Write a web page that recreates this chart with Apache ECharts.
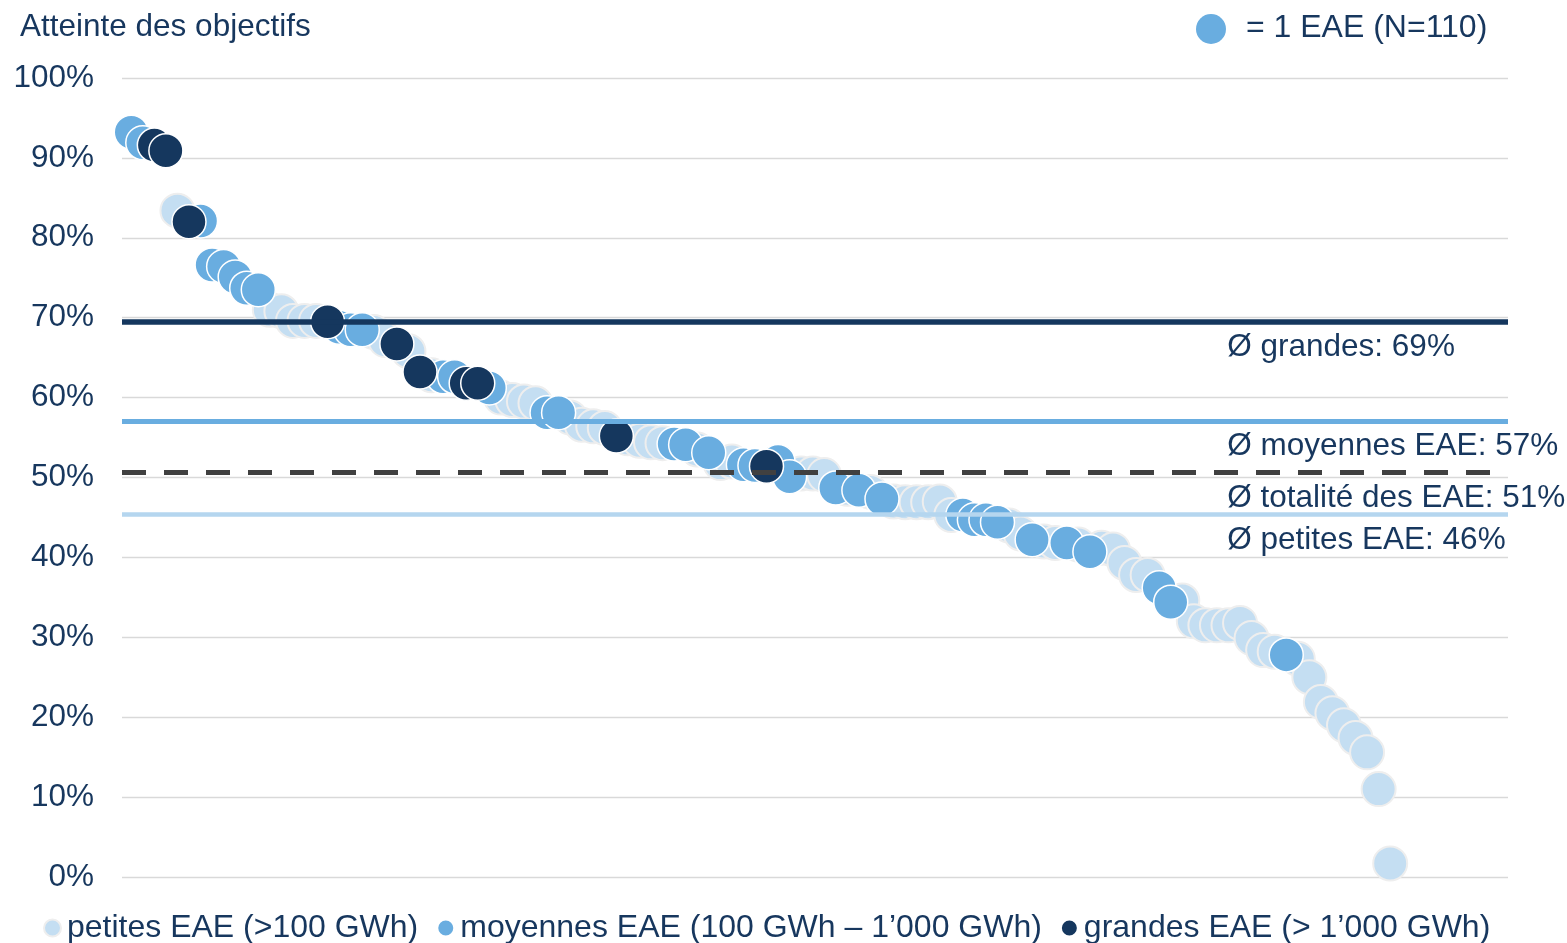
<!DOCTYPE html>
<html>
<head>
<meta charset="utf-8">
<script src="https://cdn.jsdelivr.net/npm/echarts@6/dist/echarts.min.js"></script>
<style>html,body{margin:0;padding:0;background:#fff;}#c{width:1567px;height:943px;}</style>
</head>
<body>
<div id="c"></div>
<script>
// Rank (1..110) of each EAE, sorted by goal attainment, split by size class
const petitesX = [5,13,14,15,16,17,22,23,25,27,33,34,35,36,39,40,41,42,44,45,46,47,50,52,53,59,60,61,63,65,67,68,69,70,71,72,77,78,80,81,83,85,86,87,88,89,92,93,94,95,96,97,98,99,100,102,103,104,105,106,107,108,109,110];
const petitesY = [83.4,71.0,70.8,69.6,69.6,69.6,68.2,67.2,65.8,62.8,60.0,59.7,59.5,59.3,57.5,56.6,56.4,56.2,54.9,54.6,54.4,54.3,53.5,51.8,52.0,50.5,50.5,50.3,48.6,48.2,47.0,46.9,46.9,46.9,47.0,45.3,44.0,43.0,42.0,41.8,41.6,41.2,41.0,39.3,37.8,37.8,34.6,32.0,31.5,31.5,31.5,31.8,29.9,28.4,28.2,27.3,25.0,21.9,20.5,19.0,17.4,15.6,11.0,1.7];
const moyennesX = [1,2,7,8,9,10,11,12,19,20,21,28,29,32,37,38,48,49,51,54,55,57,58,62,64,66,73,74,75,76,79,82,84,90,91,101];
const moyennesY = [93.2,91.9,82.1,76.6,76.4,75.1,73.7,73.5,68.8,68.5,68.5,62.6,62.6,61.2,58.1,58.1,54.2,54.1,53.1,51.6,51.5,52.0,50.1,48.7,48.4,47.3,45.3,44.7,44.7,44.4,42.2,41.8,40.7,36.2,34.4,27.8];
const grandesX = [3,4,6,18,24,26,30,31,43,56];
const grandesY = [91.6,90.9,82.0,69.5,66.7,63.2,61.8,61.8,55.2,51.4];

const seriesNames = ['petites EAE (>100 GWh)', 'moyennes EAE (100 GWh \u2013 1\u2019000 GWh)', 'grandes EAE (> 1\u2019000 GWh)'];
const avgValues = [69.5, 57.1, 50.6, 45.4];
const avgLabels = ['\u00d8 grandes: 69%', '\u00d8 moyennes EAE: 57%', '\u00d8 totalit\u00e9 des EAE: 51%', '\u00d8 petites EAE: 46%'];
const avgLabelX = 95.85;
const yTicks = [0, 10, 20, 30, 40, 50, 60, 70, 80, 90, 100];

const C_LIGHT = '#c4def2', C_MED = '#69ade0', C_DARK = '#15375e', TXT = '#17375e';
const FONT = 'Liberation Sans, Arial, sans-serif';
const FS = 31.5;

function pts(xs, ys) { return xs.map((x, i) => [x, ys[i]]); }

const chart = echarts.init(document.getElementById('c'));
chart.setOption({
  animation: false,
  textStyle: { fontFamily: FONT },
  title: { text: 'Atteinte des objectifs', left: 15, top: 6, textStyle: { fontFamily: FONT, fontSize: FS, fontWeight: 'normal', color: TXT } },
  grid: { left: 122, right: 59, top: 78, bottom: 66, containLabel: false },
  xAxis: { type: 'value', min: 0.2, max: 120.2, show: false },
  yAxis: {
    type: 'value', min: 0, max: 100, interval: 10,
    axisLine: { show: false }, axisTick: { show: false },
    axisLabel: { formatter: v => yTicks.includes(v) ? v + '%' : '', fontSize: FS, color: TXT, fontFamily: FONT, margin: 28 },
    splitLine: { lineStyle: { color: '#d9d9d9', width: 1.3 } }
  },
  legend: {
    top: 907, left: 38, icon: 'circle', itemWidth: 17, itemHeight: 17, itemGap: 18,
    data: seriesNames,
    textStyle: { fontSize: 32, color: TXT, fontFamily: FONT, padding: [0, 0, 0, 1] }
  },
  graphic: [
    { type: 'circle', shape: { cx: 1211, cy: 29, r: 15 }, style: { fill: C_MED } },
    { type: 'text', left: 1246, top: 12, style: { text: '= 1 EAE (N=110)', fontSize: 32, fill: TXT, fontFamily: FONT } }
  ],
  series: [
    {
      type: 'scatter', name: 'lines', z: 1, data: [], silent: true,
      markLine: {
        symbol: 'none', silent: true, animation: false,
        label: { show: false },
        data: [
          { yAxis: avgValues[0], lineStyle: { color: C_DARK, width: 5.5, type: 'solid', opacity: 1 } },
          { yAxis: avgValues[1], lineStyle: { color: C_MED, width: 5, type: 'solid', opacity: 1 } },
          { yAxis: avgValues[2], lineStyle: { color: '#404040', width: 5, type: [24, 18], opacity: 1 } },
          { yAxis: avgValues[3], lineStyle: { color: '#b5d6ef', width: 4.5, type: 'solid', opacity: 1 } }
        ]
      }
    },
    {
      type: 'scatter', name: seriesNames[0], z: 2, symbolSize: 34,
      data: pts(petitesX, petitesY),
      itemStyle: { color: C_LIGHT, borderColor: '#eeeeee', borderWidth: 2, opacity: 1 }
    },
    {
      type: 'scatter', name: seriesNames[1], z: 3, symbolSize: 34,
      data: pts(moyennesX, moyennesY),
      itemStyle: { color: C_MED, borderColor: '#ffffff', borderWidth: 1.5, opacity: 1 }
    },
    {
      type: 'scatter', name: seriesNames[2], z: 4, symbolSize: 34,
      data: pts(grandesX, grandesY),
      itemStyle: { color: C_DARK, borderColor: '#ffffff', borderWidth: 1.5, opacity: 1 }
    },
    {
      type: 'scatter', name: 'labels', z: 5, symbolSize: 1, silent: true,
      itemStyle: { color: 'rgba(0,0,0,0)', opacity: 1 },
      data: avgValues.map((v, i) => ({ value: [avgLabelX, v], label: { formatter: avgLabels[i] } })),
      label: { show: true, position: 'right', distance: 0, offset: [0, 26], fontSize: FS, color: TXT, fontFamily: FONT, textBorderWidth: 0, opacity: 1 }
    }
  ]
});
</script>
</body>
</html>
